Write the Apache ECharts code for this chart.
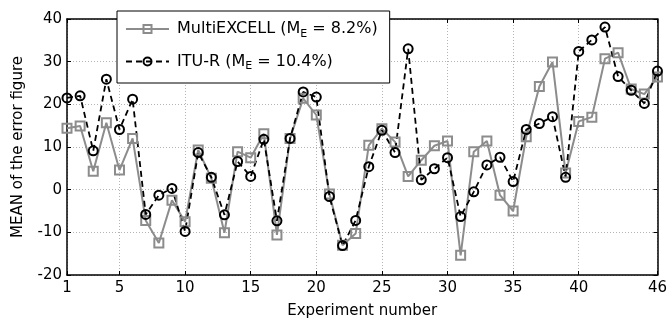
<!DOCTYPE html>
<html><head><meta charset="utf-8">
<script src="https://cdn.jsdelivr.net/npm/echarts@6/dist/echarts.min.js"></script>
<style>html,body{margin:0;padding:0;background:#fff}#c{width:670px;height:324px}</style>
</head><body><div id="c"></div>
<script>
const experiments = [1,2,3,4,5,6,7,8,9,10,11,12,13,14,15,16,17,18,19,20,21,22,23,24,25,26,27,28,29,30,31,32,33,34,35,36,37,38,39,40,41,42,43,44,45,46];
const xTickLabels = ['1','5','10','15','20','25','30','35','40','46'];
const multiExcell = [14.4,14.9,4.3,15.7,4.6,12.0,-7.2,-12.5,-2.5,-7.5,
                     9.3,2.7,-10.1,8.9,7.5,13.1,-10.6,12.0,21.4,17.5,
                     -1.0,-13.0,-10.3,10.4,14.3,11.2,3.1,6.9,10.3,11.4,
                     -15.4,8.9,11.4,-1.3,-5.0,12.4,24.2,29.9,3.9,16.0,
                     17.0,30.7,32.1,23.6,22.4,26.4];
const ituR = [21.5,22.0,9.1,25.9,14.1,21.2,-5.8,-1.3,0.3,-9.8,
              8.7,2.9,-5.9,6.6,3.1,11.8,-7.3,12.0,22.9,21.7,
              -1.6,-13.1,-7.2,5.4,13.9,8.7,33.0,2.3,4.9,7.5,
              -6.3,-0.5,5.8,7.6,1.9,14.1,15.5,17.1,2.9,32.4,
              35.1,38.1,26.5,23.3,20.2,27.8];
const seriesNames = ['MultiEXCELL', 'ITU-R'];
const meanErrors = ['8.2%', '10.4%'];
const yMin = -20, yMax = 40, yStep = 10;
const xName = 'Experiment number';
const yName = 'MEAN of the error figure';

const FONT = 'DejaVu Sans';
const showTick = (i) => xTickLabels.indexOf(String(experiments[i])) >= 0;
const gridLine = { show: true, lineStyle: { color: '#b4b4b4', type: [1, 2], width: 1 } };
const axisLine = { show: true, onZero: false, lineStyle: { color: '#000', width: 1.5 } };
const labelStyle = { color: '#000', fontFamily: FONT, fontSize: 15 };

const chart = echarts.init(document.getElementById('c'), null, { renderer: 'canvas' });
chart.setOption({
  animation: false,
  backgroundColor: '#fff',
  grid: { left: 67, right: 11, top: 19, bottom: 46 },
  legend: {
    orient: 'vertical', left: 117, top: 11,
    itemWidth: 43, itemHeight: 10, itemGap: 14,
    padding: [10, 12, 11, 8],
    borderColor: '#000', borderWidth: 1, backgroundColor: '#fff',
    data: seriesNames,
    formatter: (name) => {
      const me = meanErrors[seriesNames.indexOf(name)];
      return '{a|' + name + ' (M}{s|E}{a| = ' + me + ')}';
    },
    textStyle: {
      color: '#000', fontFamily: FONT, fontSize: 16, padding: [0, 0, 0, 3],
      rich: {
        a: { fontFamily: FONT, fontSize: 16, lineHeight: 21, color: '#000' },
        s: { fontFamily: FONT, fontSize: 11, lineHeight: 1, verticalAlign: 'bottom', color: '#000' }
      }
    }
  },
  xAxis: [{
    type: 'category', data: experiments, boundaryGap: false, position: 'bottom',
    axisLine: axisLine,
    axisTick: { show: true, inside: true, length: 4, interval: showTick, lineStyle: { color: '#000' } },
    axisLabel: Object.assign({ interval: showTick, margin: 6 }, labelStyle),
    splitLine: Object.assign({ interval: showTick }, gridLine),
    name: xName, nameLocation: 'middle', nameGap: 29,
    nameTextStyle: { color: '#000', fontFamily: FONT, fontSize: 15 }
  }, {
    type: 'category', data: experiments, boundaryGap: false, position: 'top',
    axisLine: axisLine,
    axisTick: { show: true, inside: true, length: 4, interval: showTick, lineStyle: { color: '#000' } },
    axisLabel: { show: false }, splitLine: { show: false }
  }],
  yAxis: [{
    type: 'value', min: yMin, max: yMax, interval: yStep, position: 'left',
    axisLine: axisLine,
    axisTick: { show: true, inside: true, length: 4, lineStyle: { color: '#000' } },
    axisLabel: Object.assign({ margin: 5 }, labelStyle),
    splitLine: gridLine,
    name: yName, nameLocation: 'middle', nameGap: 41,
    nameTextStyle: { color: '#000', fontFamily: FONT, fontSize: 15 }
  }, {
    type: 'value', min: yMin, max: yMax, interval: yStep, position: 'right',
    axisLine: axisLine,
    axisTick: { show: true, inside: true, length: 4, lineStyle: { color: '#000' } },
    axisLabel: { show: false }, splitLine: { show: false }
  }],
  series: [{
    name: seriesNames[0], type: 'line', data: multiExcell,
    xAxisIndex: 0, yAxisIndex: 0,
    symbol: 'rect', symbolSize: 9, showAllSymbol: true,
    lineStyle: { color: '#8c8c8c', width: 2 },
    itemStyle: { color: 'rgba(0,0,0,0)', borderColor: '#8c8c8c', borderWidth: 2 }
  }, {
    name: seriesNames[1], type: 'line', data: ituR,
    xAxisIndex: 0, yAxisIndex: 0,
    symbol: 'circle', symbolSize: 9, showAllSymbol: true,
    lineStyle: { color: '#000', width: 1.8, type: [6, 4] },
    itemStyle: { color: 'rgba(0,0,0,0)', borderColor: '#000', borderWidth: 2 }
  }]
});
</script></body></html>
